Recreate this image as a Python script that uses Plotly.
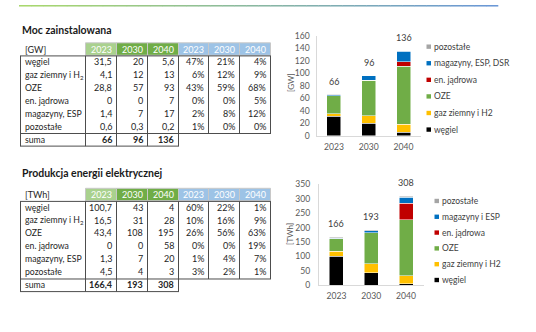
import plotly.graph_objects as go

W, H = 536, 332

# ---------------- data ----------------
categories = ["2023", "2030", "2040"]

series_colors = ["#000000", "#ffc000", "#70ad47", "#c00000", "#0070c0", "#a5a5a5"]
legend_cap = ["węgiel", "gaz ziemny i H2", "OZE", "en. jądrowa", "magazyny, ESP, DSR", "pozostałe"]
legend_prod = ["węgiel", "gaz ziemny i H2", "OZE", "en. jądrowa", "magazyny i ESP", "pozostałe"]
table_labels = ["węgiel", "gaz ziemny i H<sub>2</sub>", "OZE", "en. jądrowa", "magazyny, ESP", "pozostałe"]

# installed capacity [GW], per source, values for 2023/2030/2040
cap_wegiel = [31.5, 20, 5.6]
cap_gaz = [4.1, 12, 13]
cap_oze = [28.8, 57, 93]
cap_jadrowa = [0, 0, 7]
cap_magazyny = [1.4, 7, 17]
cap_pozostale = [0.6, 0.3, 0.2]
cap_pct_2023 = [47, 6, 43, 0, 2, 1]
cap_pct_2030 = [21, 12, 59, 0, 8, 0]
cap_pct_2040 = [4, 9, 68, 5, 12, 0]
cap_sum = ["66", "96", "136"]
cap_totals = [66, 96, 136]

# electricity production [TWh]
prod_wegiel = [100.7, 43, 4]
prod_gaz = [16.5, 31, 28]
prod_oze = [43.4, 108, 195]
prod_jadrowa = [0, 0, 58]
prod_magazyny = [1.3, 7, 20]
prod_pozostale = [4.5, 4, 3]
prod_pct_2023 = [60, 10, 26, 0, 1, 3]
prod_pct_2030 = [22, 16, 56, 0, 4, 2]
prod_pct_2040 = [1, 9, 63, 19, 7, 1]
prod_sum = ["166,4", "193", "308"]
prod_totals = [166, 193, 308]

cap_series = [cap_wegiel, cap_gaz, cap_oze, cap_jadrowa, cap_magazyny, cap_pozostale]
prod_series = [prod_wegiel, prod_gaz, prod_oze, prod_jadrowa, prod_magazyny, prod_pozostale]

# ---------------- helpers ----------------
FONT = "Lato"
TXT = "#262626"


def X(px):
    return px / W


def Y(py):
    return 1 - py / H


def fmt(v):
    if float(v).is_integer():
        return str(int(v))
    return str(v).replace(".", ",")


fig = go.Figure()
shapes = []
annotations = []

# top gradient rule
c0 = (169, 216, 110)
c1 = (107, 152, 214)
n_seg = 40
x_start, x_end = 19, 498
for i in range(n_seg):
    t = i / (n_seg - 1)
    col = "rgb(%d,%d,%d)" % tuple(int(c0[k] + (c1[k] - c0[k]) * t) for k in range(3))
    xa = x_start + (x_end - x_start) * i / n_seg
    xb = x_start + (x_end - x_start) * (i + 1) / n_seg
    shapes.append(dict(type="rect", xref="paper", yref="paper", x0=X(xa), x1=X(xb + 0.3),
                       y0=Y(1.6), y1=Y(0), fillcolor=col, line=dict(width=0), layer="above"))

# ---------------- tables ----------------
col_edges = [20.5, 85.5, 116.5, 147.5, 178.5, 208.5, 239.5, 270.5]
header_fills = ["#a9d18e", "#70ad47", "#70ad47", "#9dc3e6", "#9dc3e6", "#9dc3e6"]
LINE = "#4d4d4d"


def draw_table(title, title_y, top, unit, vals, pcts, sums):
    rh = 13.3
    annotations.append(dict(text="<b>%s</b>" % title, x=X(20), y=Y(title_y), xref="paper", yref="paper",
                            xanchor="left", yanchor="middle", showarrow=False,
                            font=dict(family=FONT, size=10.5, color="#1a1a1a")))
    hb = top + rh
    # header cells
    for j in range(6):
        shapes.append(dict(type="rect", xref="paper", yref="paper",
                           x0=X(col_edges[j + 1]), x1=X(col_edges[j + 2]),
                           y0=Y(hb), y1=Y(top + 0.5), fillcolor=header_fills[j],
                           line=dict(color="#c8c8c8", width=1), layer="below"))
        lab = categories[j % 3]
        annotations.append(dict(text=lab, x=X(col_edges[j + 2] - 3), y=Y(top + rh / 2 + 0.5),
                                xref="paper", yref="paper", xanchor="right", yanchor="middle",
                                showarrow=False, font=dict(family=FONT, size=9, color="white")))
    annotations.append(dict(text=unit, x=X(22.5), y=Y(top + rh / 2 + 0.5), xref="paper", yref="paper",
                            xanchor="left", yanchor="middle", showarrow=False,
                            font=dict(family=FONT, size=9, color=TXT)))
    # body rows
    for i in range(6):
        cy = hb + rh * i + rh / 2
        annotations.append(dict(text=table_labels[i], x=X(22.5), y=Y(cy), xref="paper", yref="paper",
                                xanchor="left", yanchor="middle", showarrow=False,
                                font=dict(family=FONT, size=8.7, color=TXT)))
        for j in range(3):
            annotations.append(dict(text=fmt(vals[i][j]), x=X(col_edges[j + 2] - 3), y=Y(cy),
                                    xref="paper", yref="paper", xanchor="right", yanchor="middle",
                                    showarrow=False, font=dict(family=FONT, size=9, color=TXT)))
        for j in range(3):
            annotations.append(dict(text="%d%%" % pcts[j][i], x=X(col_edges[j + 5] - 3), y=Y(cy),
                                    xref="paper", yref="paper", xanchor="right", yanchor="middle",
                                    showarrow=False, font=dict(family=FONT, size=9, color=TXT)))
    st = hb + rh * 6
    sb = st + rh
    cy = st + rh / 2
    annotations.append(dict(text="suma", x=X(22.5), y=Y(cy), xref="paper", yref="paper",
                            xanchor="left", yanchor="middle", showarrow=False,
                            font=dict(family=FONT, size=8.7, color=TXT)))
    for j in range(3):
        annotations.append(dict(text="<b>%s</b>" % sums[j], x=X(col_edges[j + 2] - 3), y=Y(cy),
                                xref="paper", yref="paper", xanchor="right", yanchor="middle",
                                showarrow=False, font=dict(family=FONT, size=9, color=TXT)))
    # borders
    hbp = round(hb) + 0.5
    stp = round(st) + 0.5
    sbp = round(sb) + 0.5

    def hline(x0, x1, y):
        shapes.append(dict(type="line", xref="paper", yref="paper", x0=X(x0 - 0.5), x1=X(x1 + 0.5),
                           y0=Y(y), y1=Y(y), line=dict(color=LINE, width=1), layer="above"))

    def vline(x, y0, y1):
        shapes.append(dict(type="line", xref="paper", yref="paper", x0=X(x), x1=X(x),
                           y0=Y(y0), y1=Y(y1), line=dict(color=LINE, width=1), layer="above"))

    hline(col_edges[0], col_edges[7], hbp)
    hline(col_edges[0], col_edges[7], stp)
    hline(col_edges[0], col_edges[4], sbp)
    for k in range(5):
        vline(col_edges[k], hbp, sbp)
    for k in range(5, 8):
        vline(col_edges[k], hbp, stp)


cap_vals = [[cap_series[i][j] for j in range(3)] for i in range(6)]
prod_vals = [[prod_series[i][j] for j in range(3)] for i in range(6)]
draw_table("Moc zainstalowana", 25.5, 38.5, "[GW]", cap_vals,
           [cap_pct_2023, cap_pct_2030, cap_pct_2040], cap_sum)
draw_table("Produkcja energii elektrycznej", 173, 188.5, "[TWh]", prod_vals,
           [prod_pct_2023, prod_pct_2030, prod_pct_2040], prod_sum)

# ---------------- bar charts ----------------
for s in range(6):
    fig.add_trace(go.Bar(x=categories, y=cap_series[s], name=legend_cap[s], xaxis="x", yaxis="y",
                         marker=dict(color=series_colors[s], line=dict(color="white", width=0.5)),
                         showlegend=False, hoverinfo="skip"))
for s in range(6):
    fig.add_trace(go.Bar(x=categories, y=prod_series[s], name=legend_prod[s], xaxis="x2", yaxis="y2",
                         marker=dict(color=series_colors[s], line=dict(color="white", width=0.5)),
                         showlegend=False, hoverinfo="skip"))

tick_font = dict(family=FONT, size=8.6, color="#595959")
axis_common = dict(showgrid=False, zeroline=False, showline=True, linecolor="#d9d9d9", linewidth=1,
                   ticks="", tickfont=tick_font, fixedrange=True)

# totals above bars (x given as category index)
for idx, tot in enumerate(cap_totals):
    annotations.append(dict(text=str(tot), x=idx, y=tot, xref="x", yref="y", yanchor="bottom",
                            yshift=6, showarrow=False, font=dict(family=FONT, size=9, color="#404040")))
for idx, tot in enumerate(prod_totals):
    annotations.append(dict(text=str(tot), x=idx, y=tot, xref="x2", yref="y2", yanchor="bottom",
                            yshift=6, showarrow=False, font=dict(family=FONT, size=9, color="#404040")))

# axis titles
annotations.append(dict(text="[GW]", x=X(290.5), y=Y(80), xref="paper", yref="paper", textangle=-90,
                        showarrow=False, xanchor="center", yanchor="middle",
                        font=dict(family=FONT, size=8, color="#595959")))
annotations.append(dict(text="[TWh]", x=X(290), y=Y(236), xref="paper", yref="paper", textangle=-90,
                        showarrow=False, xanchor="center", yanchor="middle",
                        font=dict(family=FONT, size=8, color="#595959")))


# legends (top entry = last series)
def draw_legend(names, sq_x, text_x, y_top, step):
    for k, s in enumerate(reversed(range(6))):
        cy = y_top + step * k
        shapes.append(dict(type="rect", xref="paper", yref="paper", x0=X(sq_x), x1=X(sq_x + 4.5),
                           y0=Y(cy + 2.3), y1=Y(cy - 2.2), fillcolor=series_colors[s],
                           line=dict(width=0)))
        annotations.append(dict(text=names[s], x=X(text_x), y=Y(cy), xref="paper", yref="paper",
                                xanchor="left", yanchor="middle", showarrow=False,
                                font=dict(family=FONT, size=8.5, color="#404040")))


draw_legend(legend_cap, 426.5, 431.5, 42.9, 17.1)
draw_legend(legend_prod, 434.5, 439.5, 202, 16.3)

fig.update_layout(
    width=W, height=H, margin=dict(l=0, r=0, t=0, b=0),
    paper_bgcolor="white", plot_bgcolor="white",
    barmode="stack", bargap=0.6,
    showlegend=False,
    xaxis=dict(domain=[X(316.5), X(421)], anchor="y", type="category", range=[-0.5, 2.5],
               ticklabelstandoff=3, **axis_common),
    yaxis=dict(domain=[Y(135), Y(31.7)], anchor="x", range=[0, 160], dtick=20,
               ticklabelstandoff=4, **axis_common),
    xaxis2=dict(domain=[X(319), X(423.5)], anchor="y2", type="category", range=[-0.5, 2.5],
                ticklabelstandoff=3, **axis_common),
    yaxis2=dict(domain=[Y(288.7), Y(185)], anchor="x2", range=[0, 350], dtick=50,
                ticklabelstandoff=6, **axis_common),
    shapes=shapes,
    annotations=annotations,
    font=dict(family=FONT),
)

fig.write_html("out.html")
